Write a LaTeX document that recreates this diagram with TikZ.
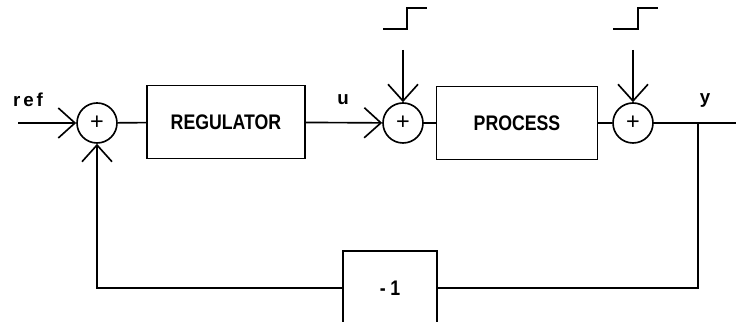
\documentclass[tikz,border=0pt]{standalone}
\usepackage{fontspec}
\setmainfont{Liberation Sans}
\newfontfamily\blkfont[FakeStretch=0.84]{Liberation Sans Bold}
\usetikzlibrary{arrows.meta}

\begin{document}
\begin{tikzpicture}[
    x=0.3mm, y=-0.3mm,
    >={Straight Barb[length=5mm, width=9mm]},
    line width=1.4pt,
    blk/.style={draw, minimum width=47.5mm, minimum height=21.8mm, font=\blkfont\fontsize{18}{18}\selectfont},
    sumnode/.style={draw, circle, minimum size=12mm, inner sep=0pt, font=\fontsize{20}{20}\selectfont},
    sig/.style={font=\bfseries\fontsize{16}{16}\selectfont},
    sigarrow/.style={->}
]
\useasboundingbox (0,0) rectangle (736,322);

\node[sumnode] (sref) at (97,123) {+};
\node[blk] (reg) at (226,122) {REGULATOR};
\node[sumnode] (su) at (403,123) {+};
\node[blk, minimum width=48.3mm] (proc) at (517,123) {PROCESS};
\node[sumnode] (sy) at (633,123) {+};
\node[blk, minimum width=28.2mm, minimum height=22.2mm] (gain) at (390,288) {-\kern4pt 1};

\node[sig] (reflbl) at (28,100) {r\kern2.5pt e\kern2.5pt f};
\node[sig] (ulbl) at (343,100) {u};
\node[sig] (ylbl) at (705,100) {y};

\coordinate (refin) at (18,123);
\coordinate (ybr) at (698,123);
\coordinate (yout) at (740,123);
\coordinate (d1) at (403,50);
\coordinate (d2) at (633,50);

% steps
\draw (383,29) -- (407,29) -- (407,8) -- (427,8);
\draw (613,29) -- (638,29) -- (638,8) -- (658,8);

\draw[sigarrow] (refin) -- (sref);
\draw (sref) -- (reg);
\draw[sigarrow] (reg) -- (su);
\draw[sigarrow] (d1) -- (su);
\draw (su) -- (proc);
\draw (proc) -- (sy);
\draw[sigarrow] (d2) -- (sy);
\draw (sy) -- (yout);
\draw (ybr) |- (gain);
\draw[sigarrow] (gain) -| (sref);
\end{tikzpicture}
\end{document}
